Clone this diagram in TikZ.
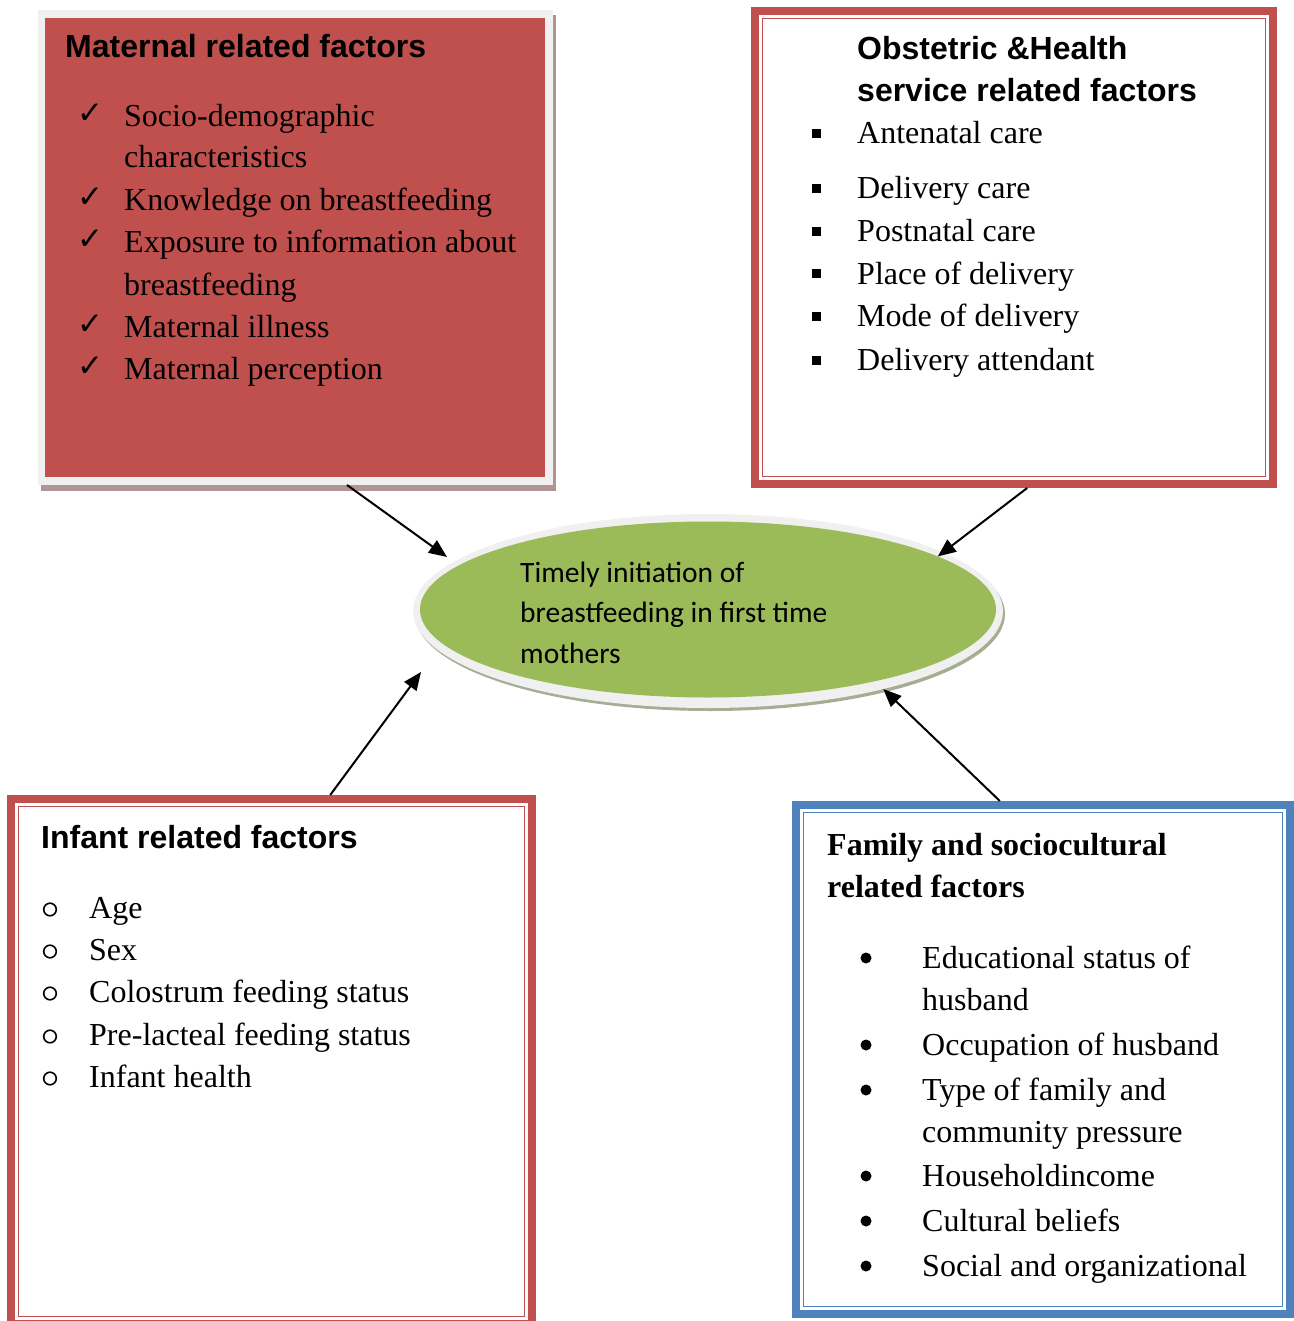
\documentclass[tikz,border=0pt]{standalone}
\usepackage{fontspec}
\setmainfont{Liberation Serif}
\setsansfont{Liberation Sans}
\newfontfamily\carlitofont{Carlito}
\newfontfamily\dejavufont{DejaVu Sans}
\usetikzlibrary{shapes.geometric,arrows.meta,calc}
\definecolor{wred}{HTML}{C0504D}
\definecolor{wblue}{HTML}{4F81BD}
\definecolor{wgreen}{HTML}{9BBB59}
\definecolor{rimgray}{HTML}{F0F0F0}
\definecolor{shadowred}{HTML}{B09595}
\definecolor{shadowgreen}{HTML}{A5AE93}
\newcommand{\dframe}[2]{%
  \draw[#2,line width=8pt] ($(#1.north west)+(4,4)$) rectangle ($(#1.south east)+(-4,-4)$);
  \draw[#2,line width=1.6pt] ($(#1.north west)+(11.5,11.5)$) rectangle ($(#1.south east)+(-11.5,-11.5)$);}
\tikzset{
  boxarea/.style={inner sep=0pt,outer sep=0pt},
  itemtext/.style={anchor=base west,inner sep=0pt,font=\fontsize{32}{38}\selectfont},
  sanstitle/.style={anchor=base west,inner sep=0pt,font=\fontsize{32}{38}\selectfont\sffamily\bfseries},
  seriftitle/.style={anchor=base west,inner sep=0pt,font=\fontsize{32}{38}\selectfont\bfseries},
  elltext/.style={anchor=base west,inner sep=0pt,font=\fontsize{29.5}{35}\selectfont\carlitofont},
  checkmark/.style={anchor=base west,inner sep=0pt,font=\fontsize{31}{36}\selectfont\dejavufont},
  arr/.style={line width=2pt,-{Triangle[length=18pt,width=15pt]}},
}
\begin{document}
\begin{tikzpicture}[x=1pt,y=-1pt]
\path[use as bounding box] (0,0) rectangle (1293,1321);

% ---------- Maternal box ----------
\fill[shadowred] (41,15) rectangle (556,491);
\node[boxarea,fill=rimgray,minimum width=515pt,minimum height=475pt] (mat) at (295.5,247.5) {};
\fill[wred] ($(mat.north west)+(7,8)$) rectangle ($(mat.south east)+(-8,-8)$);
\node[sanstitle] (mtitle) at (65,58) {Maternal related factors};
\foreach \yy/\txt [count=\i] in {127/Socio-demographic,168/characteristics,211/Knowledge on breastfeeding,253/Exposure to information about,295/breastfeeding,337/Maternal illness,379/Maternal perception}
  \node[itemtext] (mi\i) at (124,\yy) {\txt};
\foreach \yy [count=\i] in {127,211,253,337,379}
  \node[checkmark] (mc\i) at (77,\yy-3) {✓};

% ---------- Obstetric box ----------
\node[boxarea,minimum width=526pt,minimum height=481pt] (obs) at (1014,247.5) {};
\dframe{obs}{wred}
\node[sanstitle] (otitle1) at (857,60) {Obstetric \&Health};
\node[sanstitle] (otitle2) at (857,102) {service related factors};
\foreach \yy/\txt [count=\i] in {144/Antenatal care,199/Delivery care,242/Postnatal care,284/Place of delivery,326/Mode of delivery,370/Delivery attendant}{
  \node[itemtext] (oi\i) at (857,\yy) {\txt};
  \fill (811.5,\yy-14.5) rectangle (820.5,\yy-5.5);
}

% ---------- Infant box ----------
\node[boxarea,minimum width=529pt,minimum height=533pt] (inf) at (271.5,1061.5) {};
\dframe{inf}{wred}
\node[sanstitle] (ititle) at (41,848) {Infant related factors};
\foreach \yy/\txt [count=\i] in {918/Age,960/Sex,1002/Colostrum feeding status,1045/Pre-lacteal feeding status,1087/Infant health}{
  \node[itemtext] (ii\i) at (89,\yy) {\txt};
  \draw[line width=1.6pt] (50,\yy-8.5) circle[radius=6.3];
}

% ---------- Family box ----------
\node[boxarea,minimum width=502pt,minimum height=517pt] (fam) at (1043,1059.5) {};
\dframe{fam}{wblue}
\node[seriftitle] (ftitle1) at (827,855) {Family and sociocultural};
\node[seriftitle] (ftitle2) at (827,897) {related factors};
\foreach \yy/\txt [count=\i] in {968/Educational status of,1010/husband,1055/Occupation of husband,1100/Type of family and,1142/community pressure,1186/Householdincome,1231/Cultural beliefs,1276/Social and organizational}
  \node[itemtext] (fi\i) at (922,\yy) {\txt};
\foreach \yy in {968,1055,1100,1186,1231,1276}
  \fill (866,\yy-10) circle[radius=5.5];

% ---------- Central ellipse ----------
\fill[shadowgreen] (710,614) ellipse[x radius=295,y radius=97];
\node[ellipse,boxarea,fill=rimgray,minimum width=590pt,minimum height=194pt] (ell) at (708,611) {};
\node[ellipse,boxarea,fill=wgreen,minimum width=576pt,minimum height=176pt] (core) at (708,609.5) {};
\node[elltext] (e1) at (520,582) {Timely initiation of};
\node[elltext] (e2) at (520,622.5) {breastfeeding in first time};
\node[elltext] (e3) at (520,663) {mothers};

% ---------- Connectors ----------
\coordinate (t1) at (447,557);
\coordinate (t3) at (421,672);
\draw[arr] ($(mat.south west)!0.6!(mat.south east)$) -- (t1);
\draw[arr] ($(obs.south west)!0.525!(obs.south east)$) -- (core.13);
\draw[arr] ($(inf.north west)!0.611!(inf.north east)$) -- (t3);
\draw[arr] ($(fam.north west)!0.414!(fam.north east)$) -- (ell.336.2);
\end{tikzpicture}
\end{document}
